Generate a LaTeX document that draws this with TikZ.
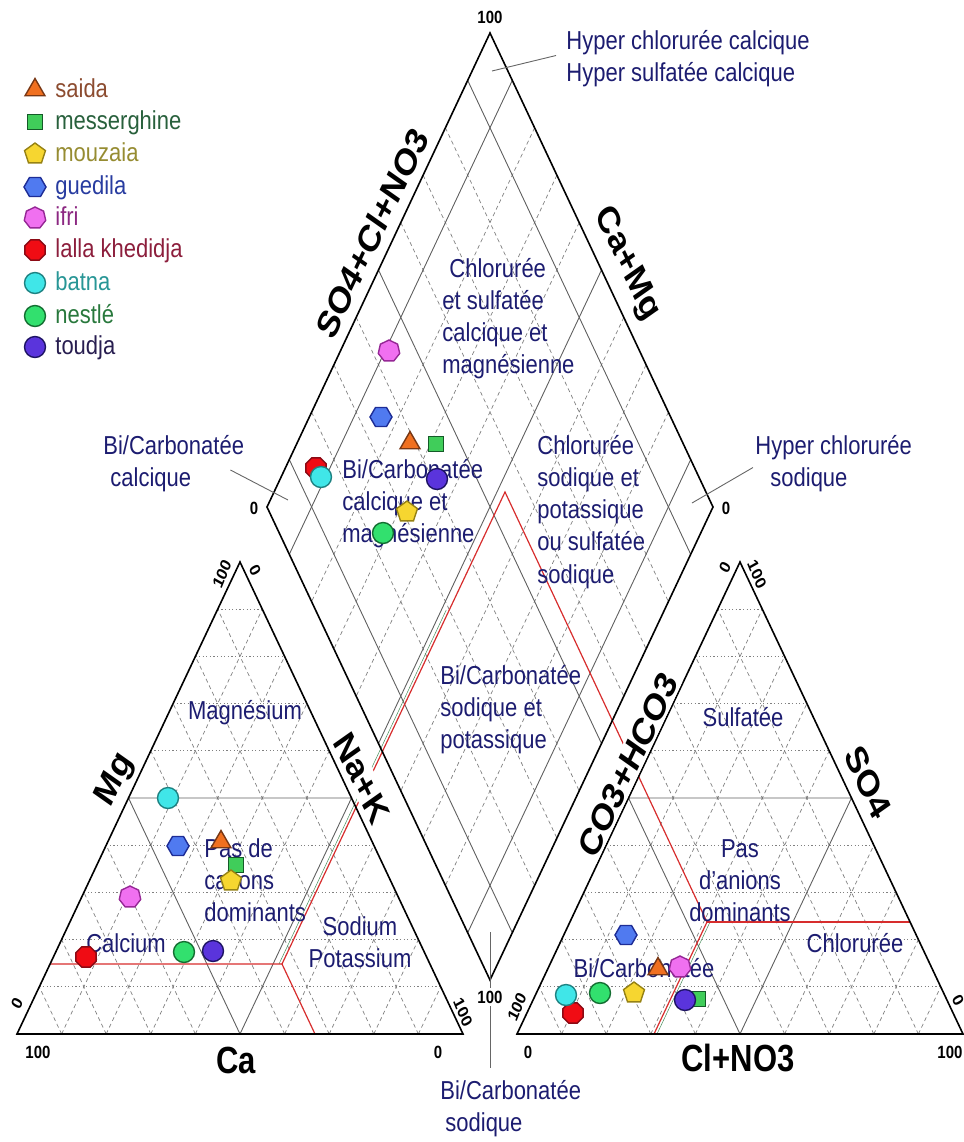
\documentclass[tikz,border=0pt]{standalone}
\usepackage{fontspec}
\setmainfont{Liberation Sans}
\usetikzlibrary{calc,positioning,shapes.geometric}

\definecolor{navy}{RGB}{28,28,112}
\definecolor{redzone}{RGB}{215,45,45}
\definecolor{greenzone}{RGB}{70,140,90}
% marker colours: fill, border, legend text
\definecolor{saidaF}{RGB}{240,112,32}  \definecolor{saidaD}{RGB}{120,55,20}  \definecolor{saidaT}{RGB}{140,76,48}
\definecolor{messerF}{RGB}{64,205,90}  \definecolor{messerD}{RGB}{20,90,40}  \definecolor{messerT}{RGB}{40,96,60}
\definecolor{mouzaF}{RGB}{246,214,48}  \definecolor{mouzaD}{RGB}{150,130,20} \definecolor{mouzaT}{RGB}{150,140,50}
\definecolor{guediF}{RGB}{80,122,240}  \definecolor{guediD}{RGB}{30,45,150}  \definecolor{guediT}{RGB}{40,60,160}
\definecolor{ifriF}{RGB}{240,112,240}  \definecolor{ifriD}{RGB}{150,40,150}  \definecolor{ifriT}{RGB}{140,40,130}
\definecolor{lallaF}{RGB}{240,12,20}   \definecolor{lallaD}{RGB}{140,10,20}  \definecolor{lallaT}{RGB}{140,30,60}
\definecolor{batnaF}{RGB}{64,230,232}  \definecolor{batnaD}{RGB}{30,130,130} \definecolor{batnaT}{RGB}{40,150,150}
\definecolor{nestleF}{RGB}{50,224,110} \definecolor{nestleD}{RGB}{20,110,50} \definecolor{nestleT}{RGB}{40,120,60}
\definecolor{toudjaF}{RGB}{90,52,220}  \definecolor{toudjaD}{RGB}{30,20,100} \definecolor{toudjaT}{RGB}{40,30,80}

\newcommand{\zonefont}{\fontsize{11}{13.6}\selectfont}
\newcommand{\axisfont}{\bfseries\fontsize{15.5}{16}\selectfont}
\newcommand{\tickfont}{\bfseries\fontsize{7.5}{8}\selectfont}

\begin{document}
\begin{tikzpicture}[x=0.5pt,y=-0.5pt,
  edge/.style={line width=0.8pt},
  mainln/.style={gray!75!black,line width=0.45pt},
  dotln/.style={gray,line width=0.35pt,dash pattern=on 0.6pt off 1.2pt},
  dashln/.style={gray,line width=0.35pt,dash pattern=on 2pt off 1.6pt},
  redln/.style={redzone,line width=0.6pt},
  grnln/.style={greenzone,line width=0.25pt},
  leader/.style={gray!80!black,line width=0.45pt},
  tall/.style={yscale=1.18},
  zone/.style={tall,navy,font=\zonefont,inner sep=0pt},
  axlab/.style={yscale=1.22,font=\axisfont,inner sep=1pt},
  tick/.style={tall,font=\tickfont,inner sep=0.5pt},
  lgtext/.style={tall,font=\fontsize{11}{13}\selectfont,inner sep=0pt,text height=1.5ex,text depth=0.3ex},
  mk/.style={inner sep=0pt,line width=0.7pt},
  saida/.style={mk,regular polygon,regular polygon sides=3,minimum size=11.5pt,fill=saidaF,draw=saidaD},
  messer/.style={mk,rectangle,minimum size=7.5pt,fill=messerF,draw=messerD},
  mouza/.style={mk,regular polygon,regular polygon sides=5,minimum size=11pt,fill=mouzaF,draw=mouzaD},
  guedi/.style={mk,regular polygon,regular polygon sides=6,minimum size=11pt,fill=guediF,draw=guediD},
  ifri/.style={mk,regular polygon,regular polygon sides=7,minimum size=11pt,fill=ifriF,draw=ifriD},
  lalla/.style={mk,regular polygon,regular polygon sides=8,minimum size=11pt,fill=lallaF,draw=lallaD},
  batna/.style={mk,circle,minimum size=10.5pt,fill=batnaF,draw=batnaD},
  nestle/.style={mk,circle,minimum size=10.5pt,fill=nestleF,draw=nestleD},
  toudja/.style={mk,circle,minimum size=10.5pt,fill=toudjaF,draw=toudjaD}]
  \useasboundingbox (0,0) rectangle (964,1142);

  % corners
  \coordinate (lA) at (17,1034);  \coordinate (lB) at (463,1034); \coordinate (lC) at (240,562);
  \coordinate (rA) at (517,1034); \coordinate (rB) at (963,1034); \coordinate (rC) at (740,562);
  \coordinate (dT) at (490,33);   \coordinate (dL) at (267,507);  \coordinate (dR) at (713,507);
  \coordinate (dB) at (490,980);

  % triangle grids
  \foreach \tri in {l,r}{
    \foreach \f in {0.1,0.2,0.3,0.4,0.6,0.7,0.8,0.9}{
      \draw[dotln] ($(\tri A)!\f!(\tri C)$) -- ($(\tri B)!\f!(\tri C)$);
      \draw[dashln] ($(\tri A)!\f!(\tri B)$) -- ($(\tri C)!\f!(\tri B)$);
      \draw[dashln] ($(\tri B)!\f!(\tri A)$) -- ($(\tri C)!\f!(\tri A)$);
    }
    \draw[mainln] ($(\tri A)!0.5!(\tri C)$) -- ($(\tri B)!0.5!(\tri C)$)
      -- ($(\tri A)!0.5!(\tri B)$) -- cycle;
  }
  % diamond grid
  \foreach \f in {0.2,0.3,0.4,0.6,0.7,0.8}{
    \draw[dashln] ($(dT)!\f!(dL)$) -- ($(dR)!\f!(dB)$);
    \draw[dashln] ($(dT)!\f!(dR)$) -- ($(dL)!\f!(dB)$);
  }
  \foreach \f in {0.1,0.5,0.9}{
    \draw[mainln] ($(dT)!\f!(dL)$) -- ($(dR)!\f!(dB)$);
    \draw[mainln] ($(dT)!\f!(dR)$) -- ($(dL)!\f!(dB)$);
  }

  % facies limits
  \coordinate (pL) at (282,964); \coordinate (pT) at (505,492); \coordinate (pR) at (707,922);
  \draw[grnln] ($(pL)+(-3,0)$) -- ($(pL)!0.75!(pT)+(-3,0)$);
  \draw[grnln] ($(pR)+(3,0)$) -- (657,1034);
  \draw[redln] (50,964) -- (pL) -- (315,1034);
  \draw[redln] (pL) -- (pT) -- (pR) -- (654,1034);
  \draw[redln] (pR) -- (910,922);

  % outlines
  \draw[edge] (lA) -- (lB) -- (lC) -- cycle;
  \draw[edge] (rA) -- (rB) -- (rC) -- cycle;
  \draw[edge] (dT) -- (dR) -- (dB) -- (dL) -- cycle;

  % axis names
  \node[axlab,rotate=60] (so4cl) at (372,233) {SO4+Cl+NO3};
  \node[axlab,rotate=-60] (camg) at (627,264) {Ca+Mg};
  \node[axlab,rotate=60] (mg) at (115,780) {Mg};
  \node[axlab,rotate=-60,fill=white] (nak) at (362,778) {Na+K};
  \node[axlab,rotate=60,fill=white] (co3) at (628,765) {CO3+HCO3};
  \node[axlab,rotate=-60] (so4) at (868,782) {SO4};
  \node[axlab] (ca) at (236,1060) {Ca};
  \node[axlab] (clno3) at (738,1058) {Cl+NO3};

  % tick values
  \node[tick] (tl1) at (38,1052) {100};
  \node[tick] (tl2) at (438,1052) {0};
  \node[tick,rotate=64.7] (tl3) at (17,1003) {0};
  \node[tick,rotate=-64.7] (tl4) at (463,1012) {100};
  \node[tick,rotate=64.7] (tl5) at (222,574) {100};
  \node[tick,rotate=-64.7] (tl6) at (255,570) {0};
  \node[tick] (tr1) at (528,1052) {0};
  \node[tick] (tr2) at (950,1052) {100};
  \node[tick,rotate=64.7] (tr3) at (517,1007) {100};
  \node[tick,rotate=-64.7] (tr4) at (958,1000) {0};
  \node[tick,rotate=64.7] (tr5) at (725,567) {0};
  \node[tick,rotate=-64.7] (tr6) at (757,574) {100};
  \node[tick] (td1) at (490,17) {100};
  \node[tick] (td2) at (254,508) {0};
  \node[tick] (td3) at (726,508) {0};

  % facies names
  \node[zone,align=left,anchor=west] (hcc) at (566,58.5) {Hyper chlorurée calcique\\Hyper sulfatée calcique};
  \node[zone,align=left,anchor=west] (bcc) at (103,463.5) {Bi/Carbonatée\\\hspace*{3.5pt}calcique};
  \node[zone,align=left,anchor=west] (hcs) at (755,463.5) {Hyper chlorurée\\\hspace*{7.5pt}sodique};
  \node[zone,align=left,anchor=west] (bcs) at (440,1108.5) {Bi/Carbonatée\\\hspace*{2.5pt}sodique};
  \node[zone,align=left,anchor=west] (csc) at (442,318.5) {\hspace*{3.5pt}Chlorurée\\et sulfatée\\calcique et\\magnésienne};
  \node[zone,align=left,anchor=west] (bccm) at (342,504) {Bi/Carbonatée\\calcique et\\magnésienne};
  \node[zone,align=left,anchor=west] (cspo) at (537,512) {Chlorurée\\sodique et\\potassique\\ou sulfatée\\sodique};
  \node[zone,align=left,anchor=west] (bcsp) at (440,710) {Bi/Carbonatée\\sodique et\\potassique};
  \node[zone] (mgz) at (245,713) {Magnésium};
  \node[zone,align=left,anchor=west] (pcd) at (204,880) {Pas de\\cations\\dominants};
  \node[zone,align=center] (naz) at (360,942.5) {Sodium\\Potassium};
  \node[zone] (caz) at (126,943) {Calcium};
  \node[zone] (sulf) at (743,717) {Sulfatée};
  \node[zone,align=center] (pad) at (740,881) {Pas\\d'anions\\dominants};
  \node[zone] (chlo) at (855,943) {Chlorurée};
  \node[zone] (bicz) at (644,968) {Bi/Carbonatée};

  % leaders
  \coordinate (hccpt) at (492,71);
  \coordinate (bccpt) at (288,500);
  \coordinate (hcspt) at (692,503);
  \coordinate (bcspt) at (490,932);
  \draw[leader] (hccpt) -- ([xshift=-5pt,yshift=1.5pt]hcc.west);
  \draw[leader] ([xshift=-7pt,yshift=-3.25pt]bcc.east) -- (bccpt);
  \draw[leader] (hcspt) -- ([xshift=-1pt,yshift=-2pt]hcs.west);
  \draw[leader,shorten >=6pt] (bcspt) -- (bcspt |- bcs.north);
  \node[tick,fill=white,inner sep=1pt] (td4) at (490,997) {100};

  % samples
  \foreach \st/\nm/\xa/\ya/\xb/\yb/\xc/\yc in {
      saida/sa/221/842/658/969/410/443,
      messer/me/236/865/698/999/436/444,
      mouza/mo/231/881/634/993/407/512,
      guedi/gu/178/846/626/935/381/417,
      ifri/if/130/897/680/967/389/351,
      lalla/la/86/957/573/1013/316/468,
      batna/ba/168/798/566/995/321/477,
      nestle/ne/184/952/600/993/383/533,
      toudja/to/213/951/685/1000/437/479}{
    \node[\st] (\nm1) at (\xa,\ya) {};
    \node[\st] (\nm2) at (\xb,\yb) {};
    \node[\st] (\nm3) at (\xc,\yc) {};
  }

  % legend
  \foreach \st/\nm/\lab/\y in {saida/sa/saida/90, messer/me/messerghine/122,
      mouza/mo/mouzaia/154, guedi/gu/guedila/187, ifri/if/ifri/218,
      lalla/la/lalla khedidja/250, batna/ba/batna/283, nestle/ne/nestlé/316,
      toudja/to/toudja/347}{
    \node[\st] (\nm0) at (35,\y) {};
    \node[lgtext,text=\st T,right=10pt of \nm0.center] (\nm L) {\lab};
  }
\end{tikzpicture}
\end{document}
